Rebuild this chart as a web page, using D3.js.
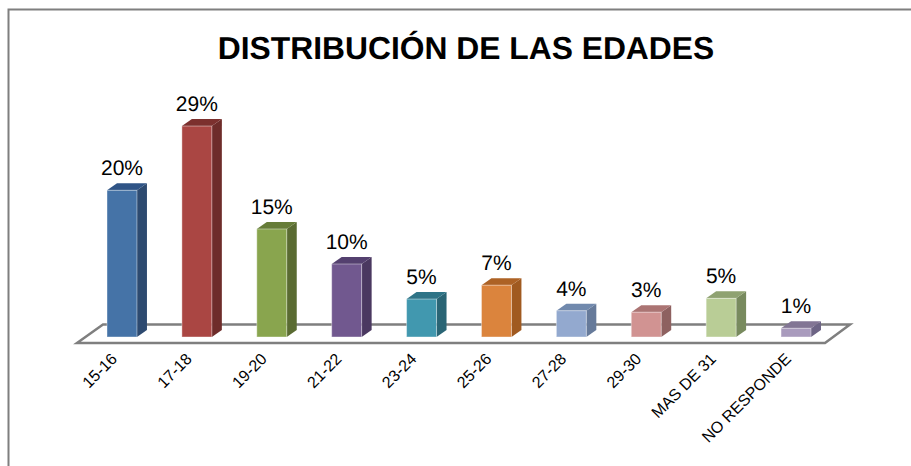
<!DOCTYPE html>
<html>
<head>
<meta charset="utf-8">
<script src="https://cdn.jsdelivr.net/npm/d3@7"></script>
<style>
  html, body { margin: 0; background: #fff; }
  svg { display: block; }
  text { font-family: "Liberation Sans", Arial, sans-serif; fill: #000; text-rendering: geometricPrecision; }
  .tick text { font-size: 16px; }
</style>
</head>
<body>
<script>
var categories = ["15-16", "17-18", "19-20", "21-22", "23-24", "25-26", "27-28", "29-30", "MAS DE 31", "NO RESPONDE"];
var percentages = [20.1, 28.9, 14.8, 10, 5.2, 7.1, 3.6, 3.4, 5.3, 1.2];
var frontColors = ["#4573a7", "#aa4643", "#89a54e", "#71588f", "#4198af", "#db843d", "#93a9cf", "#d19392", "#b9cd96", "#a99bbd"];
var topColors = ["#2f5486", "#7c302e", "#667c38", "#54406f", "#2e7487", "#ad6225", "#7189ad", "#ab7473", "#8fa271", "#827594"];
var sideColors = ["#2d4a70", "#6e2c2a", "#5a6b32", "#4a3860", "#2a6575", "#a05a20", "#667a9a", "#8e6160", "#788a5e", "#6d6485"];

var width = 911, height = 466;
var baseY = 337, depthX = 10, depthY = 7;

var svg = d3.select("body").append("svg")
    .attr("width", width)
    .attr("height", height);

// frame, only top and left show in the crop
svg.append("path")
    .attr("d", "M8.5," + height + "V9.5H" + width)
    .attr("fill", "none")
    .attr("stroke", "#7f7f7f")
    .attr("stroke-width", 2);

svg.append("text")
    .attr("x", 466)
    .attr("y", 59)
    .attr("text-anchor", "middle")
    .style("font-size", "31.8px")
    .style("font-weight", "bold")
    .text("DISTRIBUCIÓN DE LAS EDADES");

var x = d3.scaleBand()
    .domain(categories)
    .range([107, 811])
    .paddingInner(0.6)
    .paddingOuter(0);

var y = d3.scaleLinear()
    .domain([0, 30])
    .range([baseY, baseY - 219]);

var barWidth = x.bandwidth();

// floor of the 3d plot
svg.append("path")
    .attr("d", "M77,343L103,324.5H850L825,343Z")
    .attr("fill", "#fff")
    .attr("stroke", "#7f7f7f")
    .attr("stroke-width", 2.5);

var bars = svg.selectAll(".bar")
    .data(percentages)
    .enter().append("g")
    .attr("class", "bar");

// side face
bars.append("path")
    .attr("fill", function(d, i) { return sideColors[i]; })
    .attr("d", function(d, i) {
      var r = x(categories[i]) + barWidth, t = y(d);
      return "M" + r + "," + t + "l" + depthX + "," + (-depthY) + "V" + (baseY - depthY) + "l" + (-depthX) + "," + depthY + "Z";
    });

// top face
bars.append("path")
    .attr("fill", function(d, i) { return topColors[i]; })
    .attr("d", function(d, i) {
      var l = x(categories[i]), t = y(d);
      return "M" + l + "," + t + "l" + depthX + "," + (-depthY) + "h" + barWidth + "l" + (-depthX) + "," + depthY + "Z";
    });

// front face
bars.append("rect")
    .attr("x", function(d, i) { return x(categories[i]); })
    .attr("y", function(d) { return y(d); })
    .attr("width", barWidth)
    .attr("height", function(d) { return baseY - y(d); })
    .attr("fill", function(d, i) { return frontColors[i]; })
    .attr("stroke", "#fff")
    .attr("stroke-opacity", 0.4)
    .attr("stroke-width", 1);

bars.append("text")
    .attr("x", function(d, i) { return x(categories[i]) + barWidth / 2; })
    .attr("y", function(d) { return y(d) - 15; })
    .attr("text-anchor", "middle")
    .style("font-size", "21px")
    .text(function(d) { return Math.round(d) + "%"; });

var axis = svg.append("g")
    .attr("transform", "translate(0,343)")
    .call(d3.axisBottom(x).tickSize(0));

axis.select(".domain").remove();

axis.selectAll(".tick text")
    .attr("text-anchor", "end")
    .attr("dy", 0)
    .attr("y", 0)
    .attr("x", 0)
    .attr("transform", "translate(-4,17) rotate(-45)");
</script>
</body>
</html>
